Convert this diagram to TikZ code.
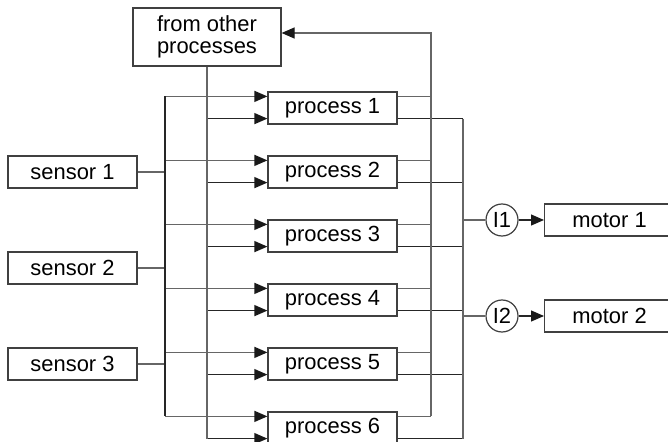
\documentclass[tikz,border=0pt]{standalone}
\usepackage{fontspec}
\setmainfont{Liberation Sans}
\usetikzlibrary{calc, arrows.meta}
\tikzset{
    box/.style={draw=black!75, line width=1.2bp, minimum width=129bp, minimum height=32bp, inner sep=0pt},
    ctrl/.style={draw=black!75, line width=1.2bp, circle, minimum size=32bp, inner sep=0pt},
    wire/.style={draw=black!85, line width=1.2bp},
    greywire/.style={draw=black!60, line width=1.2bp},
    arr/.style={-{Triangle[length=13bp, width=11bp, color=black!90]}},
    common settings/.style={
        x=1bp, y=-1bp,
        font=\fontsize{22}{22}\selectfont
    }
}
\begin{document}
\begin{tikzpicture}[common settings]
    \useasboundingbox (0,0) rectangle (668,442);

    % Boxes
    \foreach \i in {1,...,6}
        \node[box] (p\i) at (332.5, 44+64*\i) {process \i};
    \foreach \i/\y in {1/172, 2/268, 3/364}
        \node[box] (s\i) at (72.5,\y) {sensor \i};
    \node[box, minimum width=148bp, minimum height=58bp, align=center] (other) at (207,37) {from other\\processes};
    \node[ctrl] (c1) at (502,220) {I1};
    \node[ctrl] (c2) at (502,316) {I2};
    \node[box, minimum width=130bp, anchor=west] (m1) at (544,220) {motor 1};
    \node[box, minimum width=130bp, anchor=west] (m2) at (544,316) {motor 2};

    % Bus lines
    \coordinate (sbus) at (165,0);  % from the sensors
    \coordinate (obus) at (431,0);  % back to other processes
    \coordinate (mbus) at (463,0);  % to the motors
    \coordinate (back) at ($(other.east)+(0,-4)$);

    \foreach \i in {1,...,6}{
        \coordinate (p\i-a) at ($(p\i.north west)+(0,5)$);
        \coordinate (p\i-b) at ($(p\i.south west)+(0,-6)$);
        \coordinate (p\i-c) at ($(p\i.north east)+(0,5)$);
        \coordinate (p\i-d) at ($(p\i.south east)+(0,-6)$);
        \draw[greywire, arr] (sbus |- p\i-a) -- (p\i-a);
        \draw[wire, arr] (other.south |- p\i-b) -- (p\i-b);
        \draw[greywire] (p\i-c) -- (obus |- p\i-c);
        \draw[wire] (p\i-d) -- (mbus |- p\i-d);
    }
    \foreach \i in {1,2,3}
        \draw[greywire] (s\i.east) -- (sbus |- s\i);

    \draw[wire] (sbus |- p1-a) -- (sbus |- p6-a);
    \draw[greywire] (other.south) -- (other.south |- p6-b);
    \draw[greywire, arr] (obus |- p6-c) -- (obus |- back) -- (back);
    \draw[greywire] (mbus |- p1-d) -- (mbus |- p6-d);

    % Controllers
    \foreach \i in {1,2}{
        \draw[greywire] (mbus |- c\i) -- (c\i);
        \draw[wire, arr] (c\i) -- (m\i);
    }
\end{tikzpicture}
\end{document}
